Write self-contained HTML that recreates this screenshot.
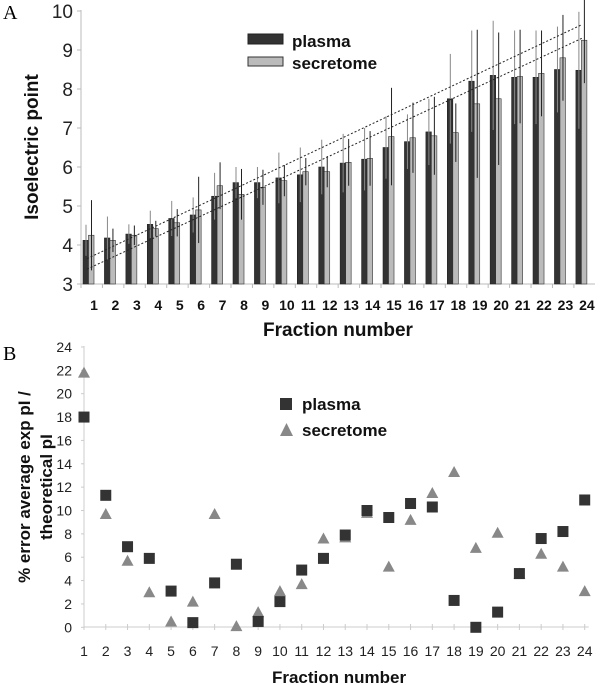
<!DOCTYPE html>
<html><head><meta charset="utf-8"><style>
body{margin:0;background:#fff;}
svg{display:block;font-family:"Liberation Sans",Arial,sans-serif;}
</style></head><body>
<svg id="chart" width="600" height="685" viewBox="0 0 600 685">
<text x="3" y="19" font-family="Liberation Serif,serif" font-size="20">A</text>
<text x="3" y="360" font-family="Liberation Serif,serif" font-size="20">B</text>
<g id="A"></g>
<g id="B"></g>
</svg>
<script>
const categories=["1","2","3","4","5","6","7","8","9","10","11","12","13","14","15","16","17","18","19","20","21","22","23","24"];
const plasmaPI=[4.12,4.18,4.28,4.53,4.68,4.77,5.25,5.6,5.6,5.72,5.8,6.0,6.1,6.2,6.5,6.65,6.9,7.75,8.2,8.35,8.3,8.3,8.5,8.48];
const secretomePI=[4.25,4.12,4.25,4.42,4.57,4.9,5.52,5.3,5.48,5.65,5.88,5.88,6.12,6.22,6.78,6.75,6.8,6.88,7.62,7.75,8.32,8.4,8.8,9.25];
const plasmaErr=[0.4,0.55,0.25,0.35,0.45,0.45,0.6,0.4,0.4,0.65,0.7,0.7,0.75,0.8,0.8,0.7,0.85,1.15,1.3,1.4,1.2,1.2,1.1,1.5];
const secretomeErr=[0.9,0.3,0.25,0.2,0.35,0.85,0.6,0.65,0.45,0.4,0.35,0.4,0.6,0.7,1.25,0.9,1.0,0.75,1.9,1.7,1.2,1.1,1.1,1.1];
const trendUpper=[3.65,9.65];
const trendLower=[3.38,9.3];
const yTicksA=[3,4,5,6,7,8,9,10];
const plasmaErrPct=[18,11.3,6.9,5.9,3.1,0.4,3.8,5.4,0.5,2.2,4.9,5.9,7.9,10,9.4,10.6,10.3,2.3,0,1.3,4.6,7.6,8.2,10.9];
const secretomeErrPct=[21.8,9.7,5.7,3.0,0.5,2.2,9.7,0.1,1.3,3.1,3.7,7.6,7.7,9.8,5.2,9.2,11.5,13.3,6.8,8.1,4.6,6.3,5.2,3.1];
const yTicksB=[0,2,4,6,8,10,12,14,16,18,20,22,24];

const NS="http://www.w3.org/2000/svg";
function mk(p,t,a,txt){const e=document.createElementNS(NS,t);for(const k in a)e.setAttribute(k,a[k]);if(txt!==undefined)e.textContent=txt;p.appendChild(e);return e;}

// Panel A
const A=document.getElementById('A');
const ax0=81,ax1=595,slot=21.43;
const yA=v=>284-(v-3)*39;
const xA=i=>ax0+i*slot;
let e;
e=mk(A,'line',{x1:ax0,y1:10,x2:ax0,y2:284,stroke:'#bbb','stroke-width':1});

e=mk(A,'line',{x1:ax0,y1:284,x2:ax1,y2:284,stroke:'#bbb','stroke-width':1});

yTicksA.forEach(v=>{
  mk(A,'line',{x1:ax0-4,y1:yA(v),x2:ax0,y2:yA(v),stroke:'#bbb'});
  e=mk(A,'text',{x:ax0-8,y:yA(v)+7,'text-anchor':'end','font-size':19,fill:'#222'},v);
  
});
categories.forEach((c,i)=>{
  mk(A,'line',{x1:xA(i),y1:284,x2:xA(i),y2:288,stroke:'#bbb'});
  const s=xA(i)+2;
  e=mk(A,'rect',{x:s,y:yA(plasmaPI[i]),width:5.5,height:284-yA(plasmaPI[i]),fill:'#333',stroke:'#222','stroke-width':0.6});
  
  e=mk(A,'rect',{x:s+5.5,y:yA(secretomePI[i]),width:5.5,height:284-yA(secretomePI[i]),fill:'#bbb',stroke:'#333','stroke-width':0.6});
  
  e=mk(A,'line',{x1:s+3,y1:yA(plasmaPI[i]+plasmaErr[i]),x2:s+3,y2:yA(plasmaPI[i]-plasmaErr[i]),stroke:'#888','stroke-width':1});
  
  e=mk(A,'line',{x1:s+8.5,y1:yA(secretomePI[i]+secretomeErr[i]),x2:s+8.5,y2:yA(secretomePI[i]-secretomeErr[i]),stroke:'#222','stroke-width':1});
  
  e=mk(A,'text',{x:xA(i)+13,y:310,'text-anchor':'middle','font-size':14,'font-weight':'bold',fill:'#111'},c);
  
});
function trend(v,name){
  const n=categories.length;
  e=mk(A,'line',{x1:xA(0)+6,y1:yA(v[0]),x2:xA(n-1)+8,y2:yA(v[1]),stroke:'#222','stroke-width':1,'stroke-dasharray':'2,2'});
  
}
trend(trendUpper,'trendline-upper');
trend(trendLower,'trendline-lower');
e=mk(A,'text',{x:38,y:147,'text-anchor':'middle','font-size':19,'font-weight':'bold',fill:'#111',transform:'rotate(-90 38 147)'},'Isoelectric point');

e=mk(A,'text',{x:338,y:336,'text-anchor':'middle','font-size':19,'font-weight':'bold',fill:'#111'},'Fraction number');

e=mk(A,'rect',{x:248,y:34,width:35,height:10,fill:'#333',stroke:'#222'});

e=mk(A,'rect',{x:248,y:57,width:35,height:9,fill:'#bbb',stroke:'#333'});

e=mk(A,'text',{x:292,y:47,'font-size':17,'font-weight':'bold',fill:'#111'},'plasma');

e=mk(A,'text',{x:292,y:69,'font-size':17,'font-weight':'bold',fill:'#111'},'secretome');


// Panel B
const B=document.getElementById('B');
const bx0=84,bsp=21.77;
const yB=v=>627.3-v*11.68;
const xB=i=>bx0+i*bsp;
e=mk(B,'line',{x1:bx0,y1:346,x2:bx0,y2:627,stroke:'#ccc'});

e=mk(B,'line',{x1:bx0,y1:627,x2:xB(23)+4,y2:627,stroke:'#ccc'});

yTicksB.forEach(v=>{
  mk(B,'line',{x1:bx0-3,y1:yB(v),x2:bx0,y2:yB(v),stroke:'#ccc'});
  e=mk(B,'text',{x:bx0-12,y:yB(v)+5,'text-anchor':'end','font-size':14,fill:'#222'},v);
  
});
categories.forEach((c,i)=>{
  mk(B,'line',{x1:xB(i),y1:624,x2:xB(i),y2:630,stroke:'#ccc'});
  e=mk(B,'text',{x:xB(i),y:656,'text-anchor':'middle','font-size':14,fill:'#222'},c);
  
  const ys=yB(secretomeErrPct[i]),x=xB(i);
  e=mk(B,'polygon',{points:`${x-6},${ys+5} ${x+6},${ys+5} ${x},${ys-6}`,fill:'#888'});
  
  const yp=yB(plasmaErrPct[i]);
  e=mk(B,'rect',{x:x-5.5,y:yp-5.5,width:11,height:11,fill:'#333'});
  
});
e=mk(B,'rect',{x:280,y:398,width:12,height:12,fill:'#333'});

e=mk(B,'polygon',{points:'280,436 293,436 286.5,423',fill:'#888'});

e=mk(B,'text',{x:302,y:410,'font-size':17,'font-weight':'bold',fill:'#111'},'plasma');

e=mk(B,'text',{x:302,y:436,'font-size':17,'font-weight':'bold',fill:'#111'},'secretome');

const yt=mk(B,'text',{'text-anchor':'middle','font-size':17,'font-weight':'bold',fill:'#111',transform:'translate(30 487) rotate(-90)'});

mk(yt,'tspan',{x:0,y:0},'% error average exp pI /');
mk(yt,'tspan',{x:0,y:22},'theoretical pI');
e=mk(B,'text',{x:339,y:683,'text-anchor':'middle','font-size':17,'font-weight':'bold',fill:'#111'},'Fraction number');

</script>
</body></html>
